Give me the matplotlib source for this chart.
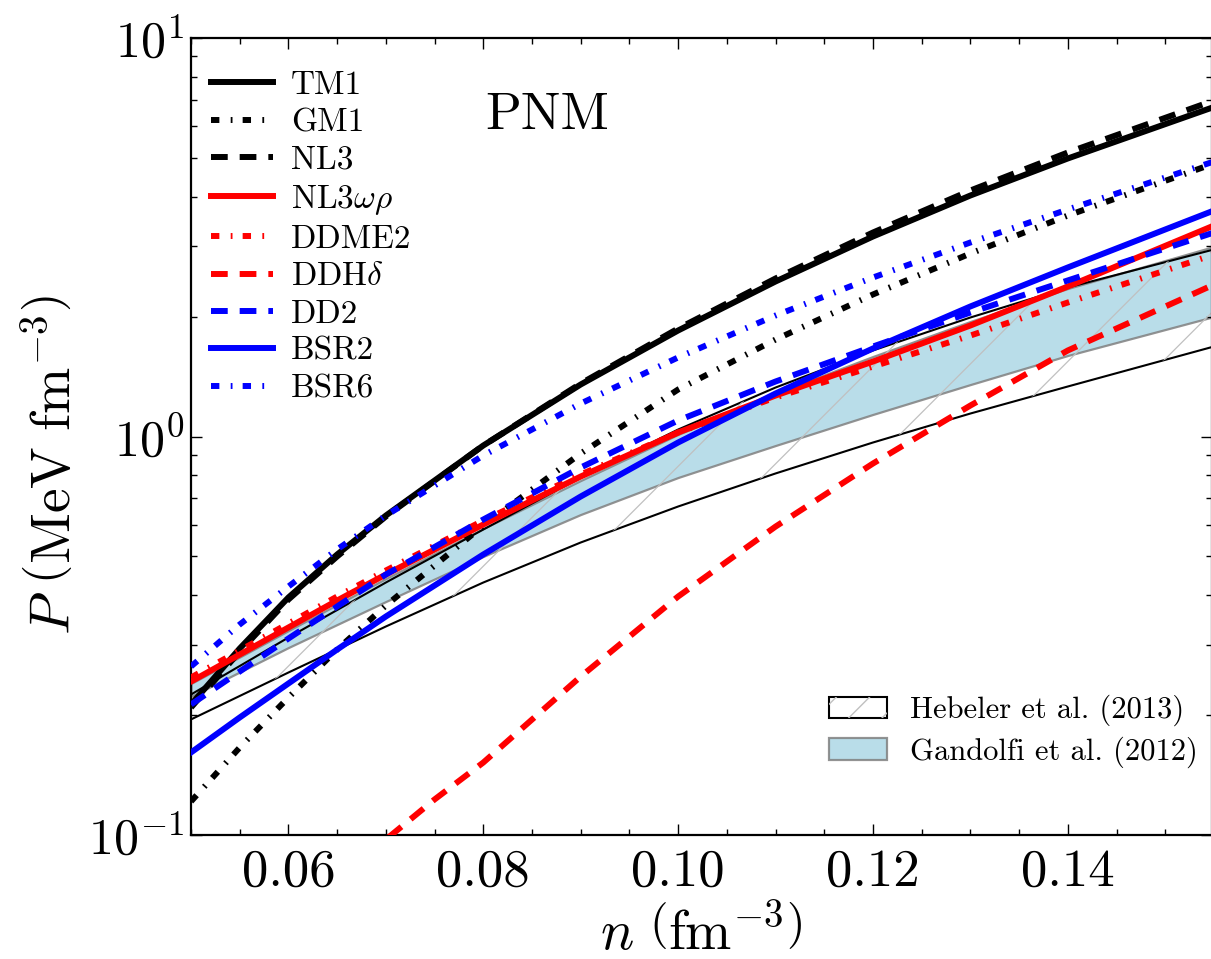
import numpy as np
import matplotlib
matplotlib.use("Agg")
import matplotlib.pyplot as plt
from matplotlib.patches import Patch, Polygon
from matplotlib.legend_handler import HandlerTuple
from matplotlib.ticker import MultipleLocator, LogLocator, NullFormatter

plt.rcParams.update({
    "font.family": "serif",
    "font.serif": ["cmr10", "DejaVu Serif"],
    "mathtext.fontset": "cm",
    "axes.formatter.use_mathtext": True,
    "axes.unicode_minus": False,
})

# densidades (fm^-3) e pressões (MeV fm^-3)
n_g = [0.05, 0.055, 0.06, 0.065, 0.07, 0.08, 0.09, 0.10, 0.11, 0.12, 0.13, 0.14, 0.155]
n_b = [0.05, 0.06, 0.07, 0.08, 0.09, 0.10, 0.11, 0.12, 0.13, 0.14, 0.155]
n_ddh = [0.068, 0.075, 0.08, 0.09, 0.10, 0.11, 0.12, 0.13, 0.14, 0.155]

p_tm1 = [0.2126, 0.2938, 0.3945, 0.5057, 0.6333, 0.9493, 1.3505, 1.845, 2.449, 3.176, 4.025, 4.985, 6.713]
p_nl3 = [0.2089, 0.2888, 0.3899, 0.5000, 0.6298, 0.9493, 1.358, 1.866, 2.492, 3.250, 4.143, 5.161, 6.969]
p_gm1 = [0.1214, 0.1658, 0.2213, 0.2920, 0.3765, 0.5979, 0.9065, 1.312, 1.751, 2.272, 2.879, 3.585, 4.843]
p_bsr6 = [0.2648, 0.3375, 0.4203, 0.5207, 0.6333, 0.8960, 1.210, 1.579, 2.012, 2.506, 3.068, 3.712, 4.898]
p_bsr2 = [0.1611, 0.1972, 0.2400, 0.2920, 0.3534, 0.5057, 0.7070, 0.9659, 1.282, 1.663, 2.120, 2.656, 3.691]
p_nl3wr = [0.2427, 0.2837, 0.3317, 0.3877, 0.4505, 0.6013, 0.7935, 1.0234, 1.267, 1.542, 1.899, 2.379, 3.384]
p_ddme2 = [0.2485, 0.2904, 0.3394, 0.3967, 0.4610, 0.6154, 0.8029, 1.0234, 1.253, 1.498, 1.792, 2.169, 2.862]
p_dd2 = [0.2126, 0.2572, 0.3112, 0.3745, 0.4505, 0.6190, 0.8360, 1.097, 1.374, 1.682, 2.047, 2.464, 3.250]
p_ddh = [0.0888, 0.1228, 0.1520, 0.2498, 0.3967, 0.5942, 0.8555, 1.196, 1.644, 2.406]

heb_lo = [0.1950, 0.2557, 0.3336, 0.4301, 0.5420, 0.6673, 0.8077, 0.9659, 1.142, 1.335, 1.682]
heb_hi = [0.2252, 0.3130, 0.4301, 0.5842, 0.7891, 1.041, 1.327, 1.644, 1.989, 2.365, 2.947]
gan_lo = [0.2227, 0.2954, 0.3854, 0.5000, 0.6372, 0.7891, 0.9493, 1.136, 1.350, 1.597, 2.000]
gan_hi = [0.2400, 0.3259, 0.4401, 0.5876, 0.7755, 1.012, 1.282, 1.588, 1.944, 2.352, 2.998]

RED, BLUE = "#ff0000", "#0000ff"
DASH = (0, (2.8, 2.0))
DASHDOT = (0, (1.4, 1.9, 0.3, 1.7))
curvas = [
    ("TM1", n_g, p_tm1, "black", "-"),
    ("GM1", n_g, p_gm1, "black", DASHDOT),
    ("NL3", n_g, p_nl3, "black", DASH),
    (r"NL3$\omega\rho$", n_g, p_nl3wr, RED, "-"),
    ("DDME2", n_g, p_ddme2, RED, DASHDOT),
    (r"DDH$\delta$", n_ddh, p_ddh, RED, DASH),
    ("DD2", n_g, p_dd2, BLUE, DASH),
    ("BSR2", n_g, p_bsr2, BLUE, "-"),
    ("BSR6", n_g, p_bsr6, BLUE, DASHDOT),
]

fig = plt.figure(figsize=(12.11, 9.59), dpi=100)
ax = fig.add_axes([191/1211, 124/959, 1021/1211, 797/959])
ax.set_yscale("log")
ax.set_xlim(0.05, 0.1548)
ax.set_ylim(0.1, 10)

# bandas
ax.fill_between(n_b, gan_lo, gan_hi, facecolor="lightblue", alpha=0.85,
                edgecolor="gray", linewidth=1.6, zorder=1)
ax.plot(n_b, heb_lo, color="black", lw=1.5, zorder=2)
ax.plot(n_b, heb_hi, color="black", lw=1.5, zorder=2)
poly = Polygon(np.column_stack([n_b + n_b[::-1], heb_lo + heb_hi[::-1]]),
               facecolor="none", edgecolor="none")
ax.add_patch(poly)
for c in np.arange(-1.0, 1.2, 0.093):
    ln, = ax.plot([c, c + 0.8], [0, 0.8 * 1021 / 797], transform=ax.transAxes,
                  color="#c0c0c0", lw=0.9, zorder=2)
    ln.set_clip_path(poly)

handles = []
for lab, xx, yy, col, ls in curvas:
    h, = ax.plot(xx, yy, color=col, ls=ls, lw=4.3, label=lab, zorder=3)
    h.set_dash_capstyle("butt")
    handles.append(h)

leg1 = ax.legend(handles=handles, loc="upper left", frameon=False, fontsize=24,
                 handlelength=1.85, handletextpad=0.55, labelspacing=0.24,
                 borderaxespad=0.2, bbox_to_anchor=(0.0, 0.984))
ax.add_artist(leg1)

h_heb = (Patch(facecolor="white", edgecolor="black", lw=1.5),
         Patch(facecolor="none", edgecolor="#c0c0c0", hatch="/", lw=0))
h_gan = Patch(facecolor="lightblue", alpha=0.85, edgecolor="gray", lw=1.6)
ax.legend([h_heb, h_gan], ["Hebeler et al. (2013)", "Gandolfi et al. (2012)"],
          handler_map={tuple: HandlerTuple(ndivide=1, pad=0)},
          loc="lower right", frameon=False, fontsize=22, handlelength=1.9,
          handletextpad=0.75, labelspacing=0.33, borderaxespad=0,
          bbox_to_anchor=(0.998, 0.069))

ax.text(0.288, 0.903, "PNM", transform=ax.transAxes, fontsize=38,
        ha="left", va="center")

ax.xaxis.set_major_locator(MultipleLocator(0.02))
ax.xaxis.set_minor_locator(MultipleLocator(0.005))
ax.yaxis.set_major_locator(LogLocator(base=10))
ax.yaxis.set_minor_locator(LogLocator(base=10, subs=np.arange(2, 10)))
ax.yaxis.set_minor_formatter(NullFormatter())
ax.xaxis.set_major_formatter(plt.FuncFormatter(lambda v, p: f"{v:.2f}"))
ax.tick_params(which="both", direction="in", top=True, right=True, width=1.0)
ax.tick_params(which="major", length=8)
ax.tick_params(which="minor", length=4)
ax.tick_params(axis="x", which="major", labelsize=38, pad=10)
ax.tick_params(axis="y", which="major", labelsize=36, pad=5)
for s in ax.spines.values():
    s.set_linewidth(1.6)

ax.set_xlabel(r"$n\ \left(\mathrm{fm}^{-3}\right)$", fontsize=40)
ax.set_ylabel(r"$P\ \left(\mathrm{MeV\ fm}^{-3}\right)$", fontsize=40)
ax.xaxis.set_label_coords(0.5, -0.088)
ax.yaxis.set_label_coords(-0.107, 0.464)

fig.savefig("out.png", dpi=100)
